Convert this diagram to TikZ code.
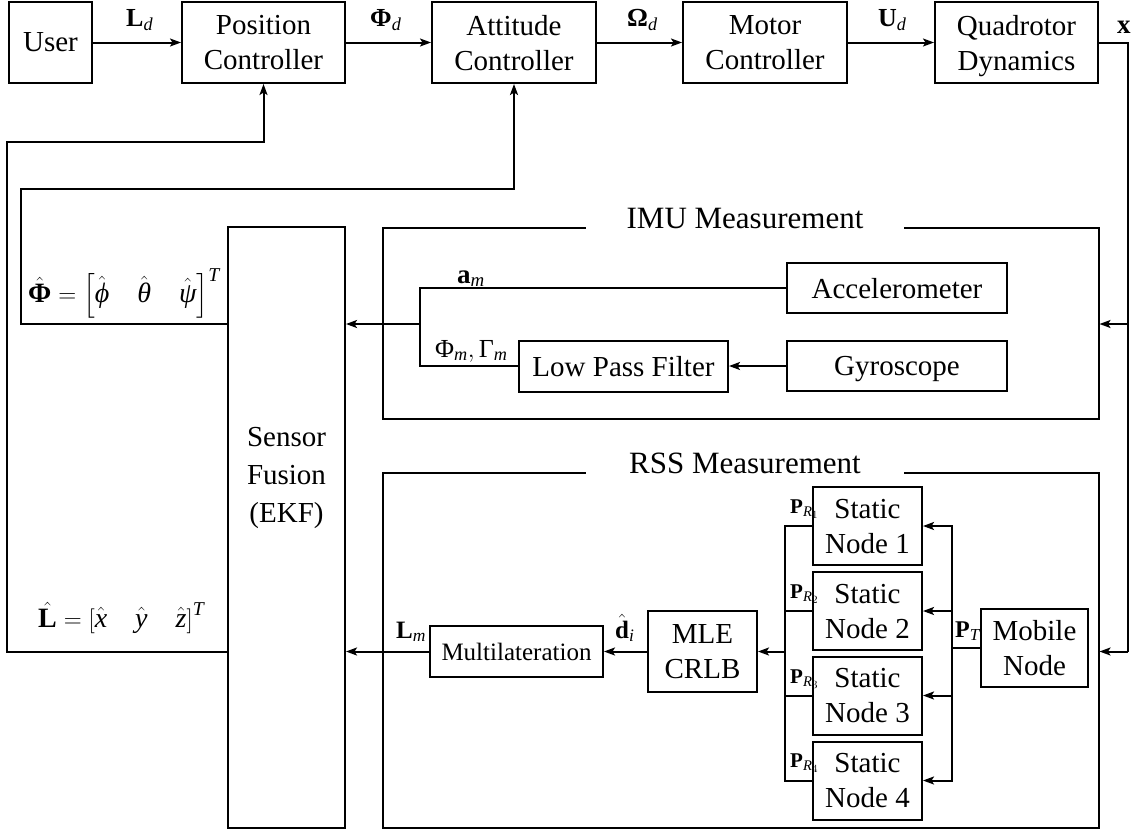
\documentclass[tikz,border=0pt]{standalone}
\usepackage{amsmath}
\usepackage{fontspec}
\setmainfont{Liberation Serif}
\usetikzlibrary{arrows.meta}

% upright bold, italic and upright pieces set in the text font inside maths
\newcommand{\tb}[1]{\text{\bfseries\upshape #1}}
\newcommand{\ti}[1]{\text{\mdseries\itshape #1}}
\newcommand{\tr}[1]{\text{\mdseries\upshape #1}}

\tikzset{
  blk/.style={draw, line width=2pt, inner sep=0pt, align=center, text depth=0pt,
              font=\fontsize{29}{35}\selectfont},
  frame/.style={draw, line width=2pt, inner sep=0pt},
  ttl/.style={fill=white, inner xsep=0pt, inner ysep=3pt, anchor=base,
              minimum width=318pt, font=\fontsize{31}{35}\selectfont},
  wire/.style={line width=2pt},
  arr/.style={wire, -{Stealth[length=11pt,width=8pt,inset=2.5pt]}},
  lbl/.style={inner sep=0pt, anchor=base west, font=\fontsize{26}{30}\selectfont},
}

\begin{document}
\begin{tikzpicture}[x=1pt,y=-1pt]
\useasboundingbox (0,0) rectangle (1145,835);

% forward chain
\node[blk, minimum width=83pt,  minimum height=81pt] (user) at (50.5,42.5)  {User};
\node[blk, minimum width=163pt, minimum height=81pt] (pos)  at (263.5,42.5) {Position\\Controller};
\node[blk, minimum width=164pt, minimum height=81pt] (att)  at (514,42.5)   {Attitude\\Controller};
\node[blk, minimum width=164pt, minimum height=81pt] (mot)  at (765,42.5)   {Motor\\Controller};
\node[blk, minimum width=163pt, minimum height=81pt] (quad) at (1016.5,42.5){Quadrotor\\Dynamics};

\draw[arr] (user) -- (pos);
\draw[arr] (pos) -- (att);
\draw[arr] (att) -- (mot);
\draw[arr] (mot) -- (quad);

\node[lbl] (ld) at (126,26)  {$\tb{L}_{\ti{d}}$};
\node[lbl] (pd) at (370,26)  {$\tb{Φ}_{\ti{d}}$};
\node[lbl] (od) at (627,26)  {$\tb{Ω}_{\ti{d}}$};
\node[lbl] (ud) at (878,26)  {$\tb{U}_{\ti{d}}$};
\node[lbl, font=\fontsize{27}{30}\selectfont] (xl) at (1117,33) {$\tb{x}$};

% sensor fusion block
\node[blk, minimum width=117pt, minimum height=601pt] (sf) at (286.5,527.5) {};
\node[align=center, inner sep=0pt, font=\fontsize{29}{38}\selectfont] (sftext) at (286.5,478) {Sensor\\Fusion\\(EKF)};

% IMU measurement group
\node[frame, minimum width=715.5pt, minimum height=191pt] (imu) at (740.75,323.5) {};
\node[ttl] (imut) at (745,228) {IMU Measurement};
\node[blk, minimum width=220pt, minimum height=50pt] (acc)  at (897,288) {Accelerometer};
\node[blk, minimum width=220pt, minimum height=50pt] (gyro) at (897,366) {Gyroscope};
\node[blk, minimum width=209pt, minimum height=51pt] (lpf)  at (623.5,366) {Low Pass Filter};

\coordinate (imubus) at (420,324);
\draw[arr] (gyro) -- (lpf);
\draw[wire] (acc.west) -| (imubus);
\draw[wire] (lpf.west) -| (imubus);
\draw[arr] (imubus) -- (sf.east |- imubus);

\node[lbl, font=\fontsize{27}{30}\selectfont] (am) at (457,283) {$\tb{a}_{\ti{m}}$};
\node[lbl] (pm) at (435,357) {$\tr{Φ}_{\ti{m}},\tr{Γ}_{\ti{m}}$};

% RSS measurement group
\node[frame, minimum width=715.5pt, minimum height=355pt] (rss) at (740.75,650.5) {};
\node[ttl] (rsst) at (745,473) {RSS Measurement};
\node[blk, minimum width=109pt, minimum height=78pt] (s1) at (867.5,526)   {Static\\Node 1};
\node[blk, minimum width=109pt, minimum height=78pt] (s2) at (867.5,611)   {Static\\Node 2};
\node[blk, minimum width=109pt, minimum height=78pt] (s3) at (867.5,695.5) {Static\\Node 3};
\node[blk, minimum width=109pt, minimum height=78pt] (s4) at (867.5,780.5) {Static\\Node 4};
\node[blk, minimum width=107pt, minimum height=78pt] (mob) at (1034.5,648) {Mobile\\Node};
\node[blk, minimum width=109pt, minimum height=81pt] (mle) at (702.5,651.5) {MLE\\CRLB};
\node[blk, minimum width=173pt, minimum height=51pt,
      font=\fontsize{25}{30}\selectfont] (mlt) at (516.5,651.5) {Multilateration};

\coordinate (rbus) at (952,648);
\coordinate (lbus) at (785,651.5);
\draw[wire] (mob.west) -- (rbus);
\foreach \s in {s1,s2,s3,s4} {
  \draw[arr] (rbus) |- (\s.east);
  \draw[wire] (\s.west) -| (lbus);
}
\draw[arr] (lbus) -- (mle.east);
\draw[arr] (mle) -- (mlt);
\draw[arr] (mlt) -- (sf.east |- mlt);

\node[lbl, font=\fontsize{24}{28}\selectfont] (pt) at (955,637) {$\tb{P}_{\ti{T}}$};
\node[lbl, font=\fontsize{21}{24}\selectfont] (pr1) at (790,513) {$\tb{P}_{\ti{R}_1}$};
\node[lbl, font=\fontsize{21}{24}\selectfont] (pr2) at (790,598) {$\tb{P}_{\ti{R}_2}$};
\node[lbl, font=\fontsize{21}{24}\selectfont] (pr3) at (790,683) {$\tb{P}_{\ti{R}_3}$};
\node[lbl, font=\fontsize{21}{24}\selectfont] (pr4) at (790,767) {$\tb{P}_{\ti{R}_4}$};
\node[lbl, font=\fontsize{25}{28}\selectfont] (lm) at (396,638) {$\tb{L}_{\ti{m}}$};
\node[lbl, font=\fontsize{25}{28}\selectfont] (dh) at (615,638) {$\hat{\tb{d}}_{\ti{i}}$};

% state feedback from the dynamics
\coordinate (xtop) at (1128,42.5);
\coordinate (ximu) at (1128,324);
\coordinate (xbot) at (1128,651.5);
\draw[wire] (quad.east) -- (xtop) -- (xbot);
\draw[arr] (ximu) -- (imu.east |- ximu);
\draw[arr] (xbot) -- (rss.east |- xbot);

% estimates fed back to the controllers
\coordinate (lx1) at (7,142);
\coordinate (lx2) at (21,189);
\draw[arr] (sf.west |- mlt) -| (lx1) -| (pos.south);
\draw[arr] (sf.west |- imubus) -| (lx2) -| (att.south);

\node[lbl, font=\fontsize{28}{32}\selectfont] (phh) at (28,302)
  {$\hat{\tb{Φ}}=\left[\hat{\ti{ϕ}}\quad\hat{\ti{θ}}\quad\hat{\ti{ψ}}\right]^{\ti{T}}$};
\node[lbl, font=\fontsize{28}{32}\selectfont] (lh) at (38,627)
  {$\hat{\tb{L}}=\left[\hat{\ti{x}}\quad\hat{\ti{y}}\quad\hat{\ti{z}}\right]^{\ti{T}}$};
\end{tikzpicture}
\end{document}
